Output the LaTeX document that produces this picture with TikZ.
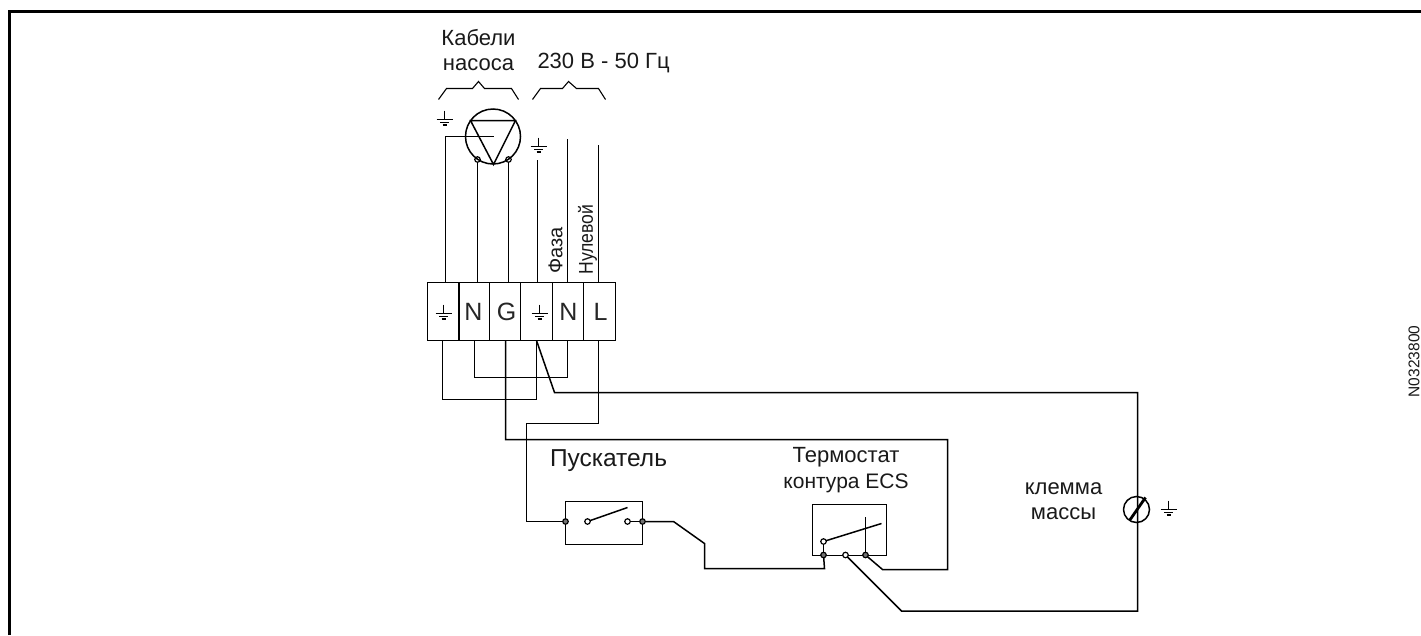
\documentclass[tikz,border=0pt]{standalone}
\usepackage{fontspec}
\setmainfont{Liberation Sans}
\newcommand{\lblfont}{\fontsize{22}{24}\selectfont}
\begin{document}
\begin{tikzpicture}[x=1pt,y=-1pt,
  wire/.style={draw=black,line width=1.5pt,line join=miter},
  cell/.style={draw=black,line width=1.5pt,fill=none,minimum height=58pt,inner sep=0pt,outer sep=0pt},
  lbl/.style={inner sep=0pt,outer sep=0pt,font=\lblfont,text=black!90},
  termlbl/.style={inner sep=0pt,outer sep=0pt,font=\fontsize{25}{27}\selectfont,text=black!85},
  dotfill/.style={circle,draw=black,line width=1.2pt,fill=black!55,minimum size=5.5pt,inner sep=0pt,outer sep=0pt},
  dotopen/.style={circle,draw=black,line width=1.2pt,fill=white,minimum size=5.5pt,inner sep=0pt,outer sep=0pt},
  pics/gnd/.style={code={
    \draw[line width=1.1pt] (0,-9) -- (0,0);
    \draw[line width=1.1pt] (-8,0) -- (8,0);
    \draw[line width=1.1pt] (-4.5,3) -- (4.5,3);
    \draw[line width=1.1pt] (-2,5.5) -- (2,5.5);
  }}]
\useasboundingbox (0,0) rectangle (1421,635);
% outer frame
\coordinate (fbl) at (9.5,635);
\coordinate (ftl) at (9.5,11);
\coordinate (ftr) at (1421,11);
\draw[line width=3pt,miter limit=10] (fbl) -- (ftl) -- (ftr);

\begin{scope}[shift={(0.5,0.5)}]
% terminal block
\node[cell,minimum width=31.5pt] (c1) at (442.75,311) {};
\node[cell,minimum width=31pt] (c2) at (473.5,311) {};
\node[cell,minimum width=31pt] (c3) at (504.5,311) {};
\node[cell,minimum width=32pt] (c4) at (536,311) {};
\node[cell,minimum width=31pt] (c5) at (567.5,311) {};
\node[cell,minimum width=32pt] (c6) at (599,311) {};
\pic at (443,313) {gnd};
\pic at (539,313) {gnd};
\node[termlbl] (tn1) at (473,311) {N};
\node[termlbl] (tg) at (506,311) {G};
\node[termlbl] (tn2) at (568,311) {N};
\node[termlbl] (tl) at (600,311) {L};

% pump
\node[circle,draw=black,line width=1.5pt,minimum size=55pt,inner sep=0pt,outer sep=0pt] (pump) at (492.5,136) {};
\coordinate (ta) at (470,120);
\coordinate (tb) at (515,120);
\coordinate (tc) at (493,164);
\draw[wire] (ta) -- (tb) -- (tc) -- cycle;
\node[dotopen,fill=none] (p1) at (477,159) {};
\node[dotopen,fill=none] (p2) at (508,159) {};
\coordinate (pc) at (493,136);
\coordinate (pl) at (445,136);
\coordinate (t1u) at (445,282);
\coordinate (t2u) at (477,282);
\coordinate (t3u) at (508,282);
\coordinate (t4u) at (537,282);
\coordinate (t5u) at (567,282);
\coordinate (t6u) at (598,282);
\coordinate (u4) at (537,159);
\coordinate (u5) at (567,138);
\coordinate (u6) at (598,144);
\draw[wire] (t1u) -- (pl) -- (pc);
\draw[wire] (t2u) -- (p1);
\draw[wire] (t3u) -- (p2);
\draw[wire] (t4u) -- (u4);
\draw[wire] (t5u) -- (u5);
\draw[wire] (t6u) -- (u6);
\pic at (444,119) {gnd};
\pic at (538,146) {gnd};

% braces
\coordinate (b1a) at (438,99); \coordinate (b1b) at (446,88); \coordinate (b1c) at (472,88);
\coordinate (b1d) at (478,81); \coordinate (b1e) at (484,88); \coordinate (b1f) at (511,88); \coordinate (b1g) at (518,99);
\draw[line width=1.1pt] (b1a) -- (b1b) -- (b1c) -- (b1d) -- (b1e) -- (b1f) -- (b1g);
\coordinate (b2a) at (532,99); \coordinate (b2b) at (540,88); \coordinate (b2c) at (562,88);
\coordinate (b2d) at (568,81); \coordinate (b2e) at (576,88); \coordinate (b2f) at (598,88); \coordinate (b2g) at (605,99);
\draw[line width=1.1pt] (b2a) -- (b2b) -- (b2c) -- (b2d) -- (b2e) -- (b2f) -- (b2g);

% top labels
\node[lbl] (kab) at (478,37) {Кабели};
\node[lbl] (nas) at (478,64) {насоса};
\node[lbl,anchor=west] (volt) at (537,63) {230 В - 50 Гц};
\node[lbl,rotate=90,font=\fontsize{20}{22}\selectfont] (faza) at (555,250) {Фаза};
\node[lbl,rotate=90,font=\fontsize{20}{22}\selectfont,xscale=0.88] (nul) at (587,239) {Нулевой};

% lower wiring
\coordinate (t1d) at (442,340);
\coordinate (t2d) at (474,340);
\coordinate (t3d) at (505,340);
\coordinate (t4d) at (536,340);
\coordinate (t5d) at (567,340);
\coordinate (t6d) at (598,340);
\coordinate (l1) at (442,399);
\coordinate (l2) at (536,399);
\draw[wire] (t1d) -- (l1) -- (l2) -- (t4d);
\coordinate (l3) at (474,377);
\coordinate (l4) at (567,377);
\draw[wire] (t2d) -- (l3) -- (l4) -- (t5d);

% starter
\node[draw=black,line width=1.5pt,minimum width=77pt,minimum height=43pt,inner sep=0pt,outer sep=0pt] (star) at (603.5,522.5) {};
\node[dotfill] (s1) at (565,521) {};
\node[dotopen] (s2) at (587,521) {};
\node[dotopen] (s3) at (627,521) {};
\node[dotfill] (s4) at (642,521) {};
\coordinate (s5) at (627,507);
\draw[wire] (s2) -- (s5);
\draw[wire] (s3) -- (s4);

% thermostat
\node[draw=black,line width=1.5pt,minimum width=74pt,minimum height=51pt,inner sep=0pt,outer sep=0pt] (th) at (849,529.5) {};
\node[dotfill] (h1) at (823,554.5) {};
\node[dotopen] (h2) at (845,554.5) {};
\node[dotfill] (h3) at (865,554.5) {};
\node[dotopen] (h4) at (823,541) {};
\coordinate (h5) at (881,523);
\coordinate (h6) at (865,516);
\draw[wire] (h4) -- (h1);
\draw[wire] (h4) -- (h5);
\draw[wire,line width=1.6pt] (h3) -- (h6);

% L wire to starter
\coordinate (w1) at (598,423);
\coordinate (w2) at (526,423);
\coordinate (w3) at (526,521);
\draw[wire] (t6d) -- (w1) -- (w2) -- (w3) -- (s1);
% starter to thermostat
\coordinate (w4) at (673,521);
\coordinate (w5) at (704,543);
\coordinate (w6) at (704,568);
\coordinate (w7) at (824,568);
\draw[wire] (s4) -- (w4) -- (w5) -- (w6) -- (w7) -- (h1);
% G wire to thermostat
\coordinate (g1) at (505,439);
\coordinate (g2) at (947,439);
\coordinate (g3) at (947,569);
\coordinate (g4) at (882,569);
\draw[wire] (t3d) -- (g1) -- (g2) -- (g3) -- (g4) -- (h3);

% earth wire
\node[circle,draw=black,line width=1.5pt,minimum size=26pt,inner sep=0pt,outer sep=0pt] (clamp) at (1136,509) {};
\coordinate (e1) at (554,392);
\coordinate (e2) at (1137,392);
\coordinate (e3) at (1137,610.5);
\coordinate (e4) at (901,610.5);
\draw[wire] (t4d) -- (e1) -- (e2) -- (e3) -- (e4) -- (h2);
\coordinate (sa) at (1129,520);
\coordinate (sb) at (1145,497);
\draw[line width=2.8pt] (sa) -- (sb);
\pic at (1168,509) {gnd};

% other labels
\node[lbl,font=\fontsize{24.5}{26}\selectfont] (pusk) at (608,460) {Пускатель};
\node[lbl] (ter) at (845.5,457) {Термостат};
\node[lbl,font=\fontsize{21}{23}\selectfont] (kon) at (845.5,483) {контура ECS};
\node[lbl] (kle) at (1063,488) {клемма};
\node[lbl] (mas) at (1063,513) {массы};
\node[lbl,rotate=90,font=\fontsize{15.5}{17}\selectfont] (code) at (1413.5,361) {N0323800};
\end{scope}
\end{tikzpicture}
\end{document}
